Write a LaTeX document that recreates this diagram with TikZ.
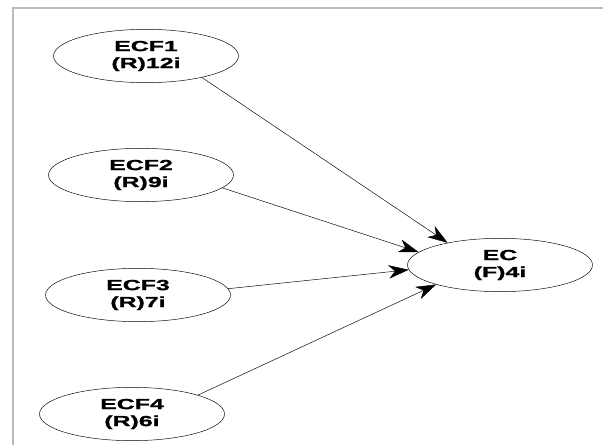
\documentclass[tikz,border=0pt]{standalone}
\usepackage{fontspec}
\setmainfont{Liberation Sans}[FakeStretch=1.7, BoldFeatures={FakeBold=1.3}]
\usetikzlibrary{shapes.geometric, arrows.meta}

\begin{document}
\begin{tikzpicture}[thin, >={Stealth[length=6mm, width=4mm, inset=1.8mm]},
    factor/.style={draw, ellipse, minimum width=5.55cm, minimum height=1.6cm,
        inner sep=0pt, align=center, font=\bfseries\fontsize{12.5}{14.5}\selectfont}]

    \useasboundingbox (0, 0) rectangle (18.09, 13.35);

    % Frame
    \draw[gray!55, line width=1.2pt] (0.39, 0) -- (0.39, 13.11) -- (18.09, 13.11);

    % Nodes for the factors
    \node at (4.38, 11.67) (ECF1) [factor] {ECF1\\(R)12i};
    \node at (4.23, 8.10) (ECF2) [factor] {ECF2\\(R)9i};
    \node at (4.14, 4.50) (ECF3) [factor] {ECF3\\(R)7i};
    \node at (3.96, 0.93) (ECF4) [factor] {ECF4\\(R)6i};

    % Node for the construct
    \node at (15.00, 5.40) (EC) [factor] {EC\\(F)4i};

    % Arrows
    \draw[->] (ECF1.-21) -- (EC.157);
    \draw[->] (ECF2.-9) -- (EC.171);
    \draw[->] (ECF3.4) -- (EC.-177);
    \draw[->] (ECF4.16) -- (EC.-163);

\end{tikzpicture}
\end{document}
